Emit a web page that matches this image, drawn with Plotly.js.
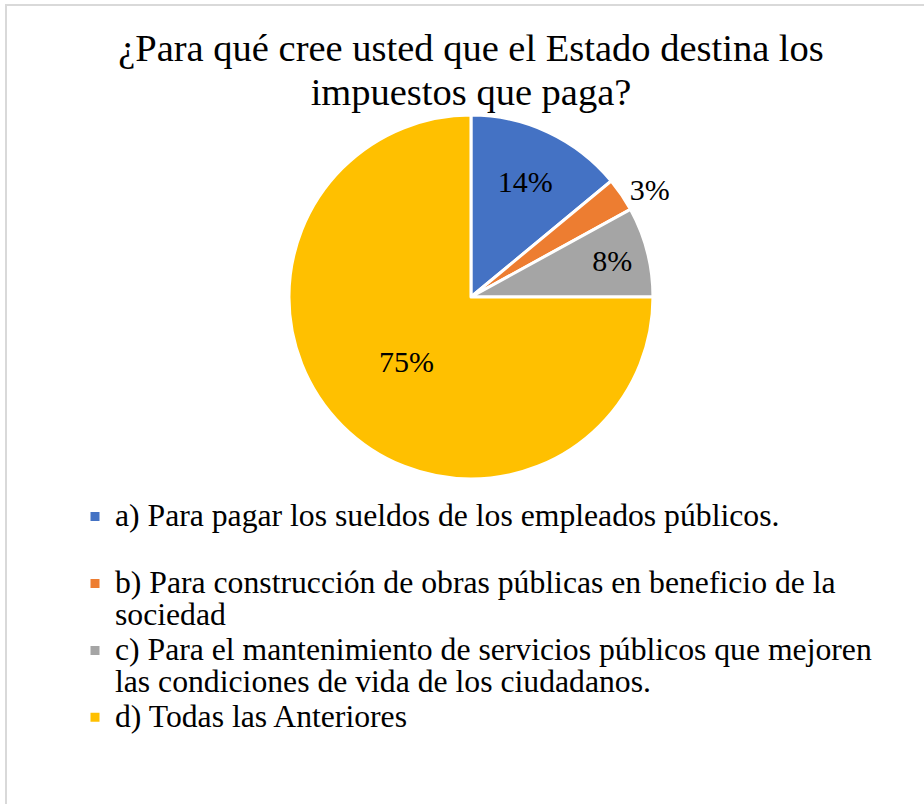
<!DOCTYPE html>
<html>
<head>
<meta charset="utf-8">
<script src="https://cdn.plot.ly/plotly-3.0.1.min.js"></script>
<style>html,body{margin:0;padding:0;background:#fff;}#chart{width:924px;height:804px;}</style>
</head>
<body>
<div id="chart"></div>
<script>
const categoryLines = [
  ["a) Para pagar los sueldos de los empleados públicos.", " "],
  ["b) Para construcción de obras públicas en beneficio de la", "sociedad"],
  ["c) Para el mantenimiento de servicios públicos que mejoren", "las condiciones de vida de los ciudadanos."],
  ["d) Todas las Anteriores"]
];
const values = [14, 3, 8, 75];
const colors = ["#4472C4", "#ED7D31", "#A5A5A5", "#FFC000"];
const textPositions = ["inside", "outside", "inside", "inside"];
const titleLines = ["¿Para qué cree usted que el Estado destina los", "impuestos que paga?"];

const W = 924, H = 804;
const font = "Liberation Serif";

function sized(lines, px) {
  return lines.map(l => '<span style="font-size:' + px + 'px">' + l + '</span>').join('<br>');
}
const categories = categoryLines.map(lines => sized(lines, 31.7));

const trace = {
  type: "pie",
  labels: categories,
  values: values,
  sort: false,
  direction: "clockwise",
  rotation: 0,
  marker: {colors: colors, line: {color: "#ffffff", width: 3}},
  textinfo: "percent",
  texttemplate: "%{percent:.0%}",
  textposition: textPositions,
  insidetextorientation: "horizontal",
  textfont: {family: font, size: 30, color: "#000000"},
  insidetextfont: {family: font, size: 30, color: "#000000"},
  outsidetextfont: {family: font, size: 30, color: "#000000"},
  domain: {x: [0.3127, 0.7067], y: [(H - 479) / H, (H - 115) / H]},
  hoverinfo: "percent"
};

const layout = {
  width: W, height: H,
  margin: {l: 0, r: 0, t: 0, b: 0},
  paper_bgcolor: "#ffffff",
  title: {
    text: sized(titleLines, 38.5),
    font: {family: font, size: 34, color: "#000000"},
    x: 471 / W, xanchor: "center",
    xref: "paper",
    y: 1 - 61 / H, yanchor: "top", yref: "container"
  },
  showlegend: true,
  legend: {
    x: 75 / W, xanchor: "left",
    y: 1 - 494 / H, yanchor: "top",
    font: {family: font, size: 24.6, color: "#000000"},
    valign: "top",
    bgcolor: "rgba(0,0,0,0)",
    tracegroupgap: 0
  },
  shapes: [{
    type: "rect", xref: "paper", yref: "paper",
    x0: 6 / W, x1: 1.05, y0: -0.05, y1: 1 - 5 / H,
    line: {color: "#d9d9d9", width: 2},
    fillcolor: "rgba(0,0,0,0)", layer: "below"
  }]
};

Plotly.newPlot("chart", [trace], layout, {displayModeBar: false, staticPlot: true});
</script>
</body>
</html>
